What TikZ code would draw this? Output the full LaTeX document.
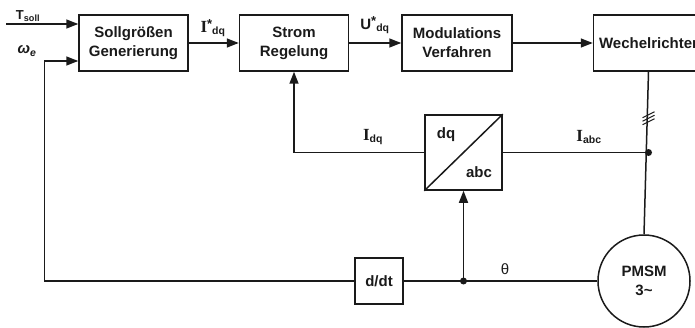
\documentclass[tikz,border=0pt]{standalone}
\usepackage{fontspec}
\setmainfont{Liberation Sans}
\newfontfamily\serifI{Liberation Serif}
\usetikzlibrary{arrows.meta,positioning,calc}
\usepackage{xcolor}
\definecolor{ink}{HTML}{1A1A1A}
\tikzset{
  >={Triangle[length=12pt,width=9pt]},
  every node/.style={font=\fontsize{15}{19}\selectfont\bfseries,text=ink},
  box/.style={draw=ink,line width=1.5pt,minimum width=109pt,minimum height=56pt,align=center,inner sep=2pt},
  smallbox/.style={box,minimum width=48pt,minimum height=46pt},
  motorcirc/.style={circle,draw=ink,line width=1.5pt,minimum size=92pt,align=center,inner sep=0pt},
  arrow/.style={->,line width=1.5pt,draw=ink},
  wire/.style={line width=1.5pt,draw=ink},
  dot/.style={circle,fill=ink,inner sep=0pt,minimum size=7pt},
  sig/.style={inner sep=1pt},
}
\newcommand{\bigI}{{\fontsize{17}{19}\serifI\selectfont I}}
\newcommand{\starsup}{\raisebox{4pt}{\fontsize{13}{13}\selectfont *}}

\begin{document}
\begin{tikzpicture}[x=1pt,y=1pt]
\useasboundingbox (0,0) rectangle (695,327);

% forward path
\node[box] (sgen) at (133.5,284) {Sollgrößen\\Generierung};
\node[box,right=50pt of sgen] (strom) {Strom\\Regelung};
\node[box,minimum width=110pt,right=52pt of strom] (modul) {Modulations\\Verfahren};
\node[box,minimum width=110pt,right=80pt of modul] (wr) {Wechelrichter};

% transform, motor, derivative
\node[box,minimum width=77pt,minimum height=75pt] (dq) at (463.5,174.5) {};
\node[motorcirc] (motor) at (644,46) {PMSM\\3\textasciitilde};
\node[smallbox] (ddt) at (379,46) {d/dt};
\draw[wire] (dq.south west) -- (dq.north east);
\node[sig] (dqtxt) at (446,192) {dq};
\node[sig] (abctxt) at (479,155) {abc};

% junctions
\coordinate (tin) at (6,303);
\coordinate (win) at ($(sgen.west)+(0,-18)$);
\coordinate (wcorner) at ($(win)+(-34,0)$);
\coordinate (iab) at (wr.south |- dq.east);
\coordinate (th) at (dq.south |- motor.west);
\node[dot] (iabdot) at (iab) {};
\node[dot] (thdot) at (th) {};

% arrows
\draw[arrow] (tin) -- (tin -| sgen.west);
\draw[arrow] (sgen) -- (strom);
\draw[arrow] (strom) -- (modul);
\draw[arrow] (modul) -- (wr);
\draw[wire] (wr.south) -- (motor.north);
\draw[wire] (iab) -- (dq.east);
\draw[arrow] (dq.west) -| (strom.south);
\draw[arrow] (th) -- (dq.south);
\draw[wire] (motor.west) -- (ddt.east);
\draw[arrow] (ddt.west) -| (wcorner) -- (win);

% three-phase marks
\foreach \d in {0,3.5,7}
  \draw[wire,line width=1.1pt] ($(wr.south)+(-6,-46-\d)$) -- ++(12,6);

% signal names
\node[sig,font=\fontsize{13}{15}\selectfont\bfseries] (tsoll) at (28,311) {T\textsubscript{soll}};
\node[sig] (we) at (27,276) {\itshape ω\textsubscript{e}};
\node[sig] (istar) at (213,299) {\bigI\starsup\textsubscript{dq}};
\node[sig] (ustar) at (375,302) {U\starsup\textsubscript{dq}};
\node[sig] (idq) at (373,190) {\bigI\textsubscript{dq}};
\node[sig] (iabc) at (589,190) {\bigI\textsubscript{abc}};
\node[sig,font=\fontsize{15}{19}\selectfont] (theta) at (505,58) {θ};

\end{tikzpicture}
\end{document}
